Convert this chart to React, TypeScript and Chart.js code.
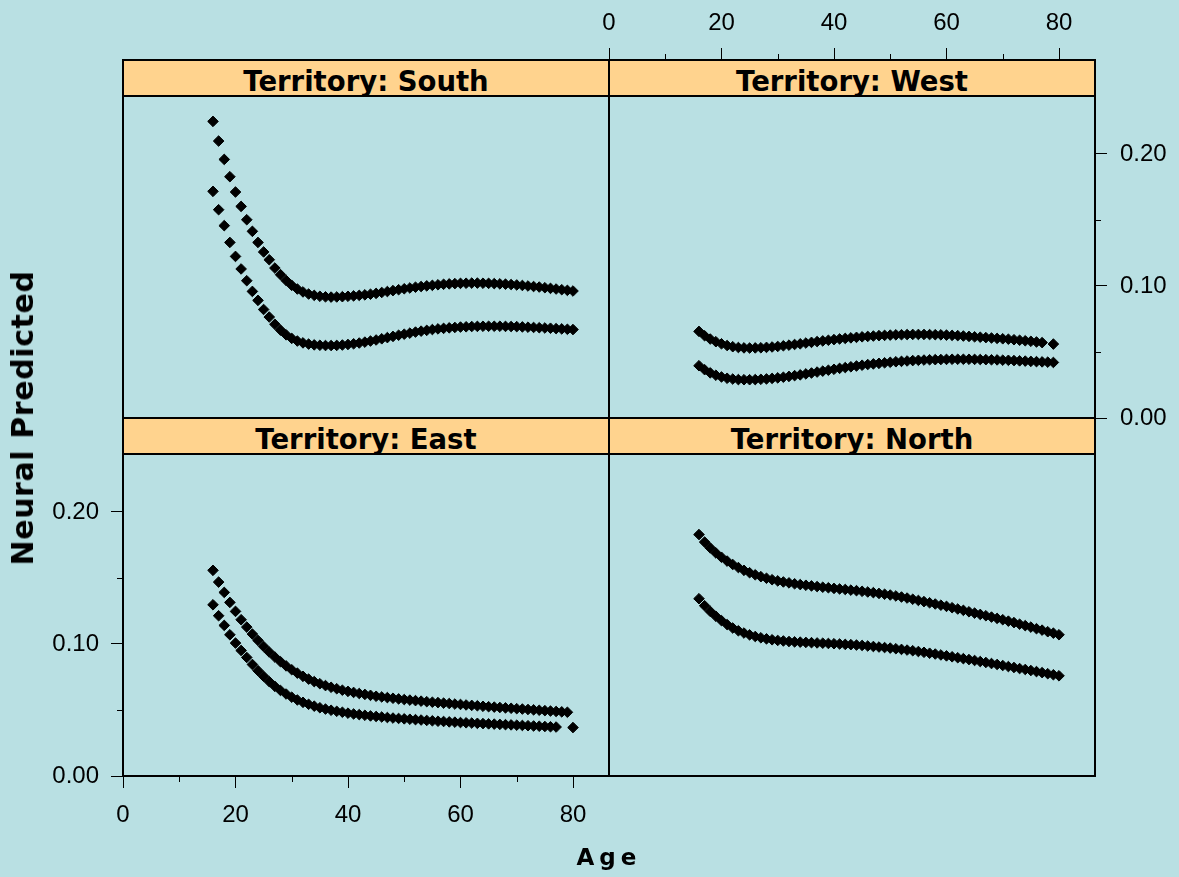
import React, { useEffect, useRef } from "react";
import { Chart, registerables } from "chart.js";

Chart.register(...registerables);

// ---------- data ----------
const AGES = [
  16, 17, 18, 19, 20, 21, 22, 23, 24, 25, 26, 27, 28, 29, 30, 31, 32, 33, 34, 35,
  36, 37, 38, 39, 40, 41, 42, 43, 44, 45, 46, 47, 48, 49, 50, 51, 52, 53, 54, 55,
  56, 57, 58, 59, 60, 61, 62, 63, 64, 65, 66, 67, 68, 69, 70, 71, 72, 73, 74, 75,
  76, 77, 78, 79, 80,
];

const SOUTH_UPPER = [
  0.2247, 0.2098, 0.1959, 0.1828, 0.1712, 0.1603, 0.1502, 0.1414, 0.133, 0.1258,
  0.1199, 0.1136, 0.1086, 0.1042, 0.1005, 0.0977, 0.0955, 0.0939, 0.0929, 0.0922,
  0.0918, 0.0916, 0.0917, 0.0919, 0.0922, 0.0925, 0.0929, 0.0933, 0.0938, 0.0944,
  0.0951, 0.0958, 0.0965, 0.0972, 0.0979, 0.0985, 0.0991, 0.0996, 0.1001, 0.1005,
  0.1009, 0.1013, 0.1016, 0.1018, 0.102, 0.1021, 0.1022, 0.1022, 0.1021, 0.102,
  0.1018, 0.1016, 0.1014, 0.1011, 0.1008, 0.1004, 0.1, 0.0996, 0.0992, 0.0987,
  0.0982, 0.0977, 0.0972, 0.0967, 0.0962,
];
const SOUTH_LOWER = [
  0.1717, 0.1578, 0.1457, 0.133, 0.1224, 0.1129, 0.104, 0.0959, 0.0891, 0.0822,
  0.0765, 0.071, 0.0666, 0.063, 0.0603, 0.0583, 0.0569, 0.056, 0.0554, 0.0551,
  0.0549, 0.0549, 0.055, 0.0553, 0.0557, 0.0562, 0.0568, 0.0575, 0.0583, 0.0591,
  0.06, 0.0609, 0.0618, 0.0627, 0.0635, 0.0643, 0.0651, 0.0658, 0.0664, 0.067,
  0.0675, 0.0679, 0.0683, 0.0686, 0.0689, 0.0691, 0.0693, 0.0694, 0.0695, 0.0695,
  0.0695, 0.0695, 0.0694, 0.0693, 0.0692, 0.069, 0.0688, 0.0686, 0.0684, 0.0682,
  0.068, 0.0677, 0.0675, 0.0672, 0.067,
];
const WEST_UPPER = [
  0.0656, 0.0623, 0.0598, 0.0578, 0.0562, 0.0549, 0.054, 0.0534, 0.0531, 0.053,
  0.0531, 0.0532, 0.0535, 0.0538, 0.0542, 0.0547, 0.0552, 0.0557, 0.0562, 0.0568,
  0.0573, 0.0579, 0.0584, 0.0589, 0.0594, 0.0599, 0.0603, 0.0607, 0.0611, 0.0615,
  0.0618, 0.0621, 0.0624, 0.0626, 0.0628, 0.063, 0.0631, 0.0632, 0.0633, 0.0633,
  0.0633, 0.0632, 0.0631, 0.063, 0.0628, 0.0626, 0.0624, 0.0621, 0.0618, 0.0615,
  0.0612, 0.0609, 0.0606, 0.0603, 0.06, 0.0597, 0.0593, 0.0589, 0.0585, 0.0581,
  0.0576, 0.0571, null, 0.056, null,
];
const WEST_LOWER = [
  0.0396, 0.0366, 0.0342, 0.0324, 0.0311, 0.0301, 0.0295, 0.0291, 0.029, 0.029,
  0.0291, 0.0293, 0.0296, 0.03, 0.0304, 0.0309, 0.0315, 0.0321, 0.0327, 0.0334,
  0.0341, 0.0348, 0.0355, 0.0362, 0.0369, 0.0376, 0.0382, 0.0388, 0.0394, 0.04,
  0.0405, 0.041, 0.0414, 0.0418, 0.0422, 0.0426, 0.0429, 0.0432, 0.0435, 0.0437,
  0.0439, 0.0441, 0.0442, 0.0443, 0.0444, 0.0445, 0.0445, 0.0445, 0.0445, 0.0444,
  0.0443, 0.0442, 0.0441, 0.044, 0.0438, 0.0437, 0.0435, 0.0433, 0.0431, 0.0429,
  0.0427, 0.0425, 0.0423, 0.0421, null,
];
const EAST_UPPER = [
  0.1558, 0.1469, 0.1391, 0.1315, 0.1247, 0.1184, 0.1128, 0.1075, 0.1027, 0.0981,
  0.0939, 0.0901, 0.0866, 0.0834, 0.0805, 0.0779, 0.0755, 0.0734, 0.0715, 0.0699,
  0.0685, 0.0672, 0.0661, 0.065, 0.0641, 0.0633, 0.0625, 0.0618, 0.0611, 0.0604,
  0.0599, 0.0594, 0.0589, 0.0584, 0.0579, 0.0575, 0.0571, 0.0567, 0.0563, 0.0559,
  0.0556, 0.0552, 0.0549, 0.0545, 0.0542, 0.0538, 0.0535, 0.0532, 0.0528, 0.0525,
  0.0522, 0.0519, 0.0516, 0.0513, 0.051, 0.0507, 0.0504, 0.0501, 0.0498, 0.0495,
  0.0492, 0.0489, 0.0486, 0.0483, null,
];
const EAST_LOWER = [
  0.1297, 0.1214, 0.1141, 0.107, 0.1007, 0.0951, 0.0898, 0.0845, 0.0798, 0.0755,
  0.0715, 0.0679, 0.0648, 0.0621, 0.0597, 0.0576, 0.0558, 0.0543, 0.0529, 0.0517,
  0.0507, 0.0498, 0.049, 0.0483, 0.0476, 0.047, 0.0465, 0.046, 0.0455, 0.0451,
  0.0447, 0.0443, 0.0439, 0.0436, 0.0433, 0.043, 0.0427, 0.0424, 0.0421, 0.0418,
  0.0415, 0.0413, 0.041, 0.0408, 0.0405, 0.0403, 0.0401, 0.0399, 0.0397, 0.0395,
  0.0393, 0.0391, 0.0389, 0.0387, 0.0385, 0.0383, 0.0381, 0.0379, 0.0377, 0.0375,
  0.0373, 0.0371, null, null, 0.0367,
];
const NORTH_UPPER = [
  0.1829, 0.1772, 0.1728, 0.169, 0.1657, 0.1628, 0.1602, 0.1579, 0.1558, 0.154,
  0.1524, 0.151, 0.1498, 0.1487, 0.1478, 0.147, 0.1463, 0.1456, 0.145, 0.1445,
  0.144, 0.1435, 0.143, 0.1426, 0.1421, 0.1417, 0.1413, 0.1408, 0.1404, 0.1399,
  0.1394, 0.1389, 0.1383, 0.1377, 0.1371, 0.1364, 0.1356, 0.1348, 0.1339, 0.133,
  0.1321, 0.1312, 0.1303, 0.1294, 0.1285, 0.1275, 0.1265, 0.1255, 0.1244, 0.1234,
  0.1224, 0.1214, 0.1204, 0.1194, 0.1184, 0.1173, 0.1162, 0.115, 0.1139, 0.1128,
  0.1116, 0.1105, 0.1093, 0.1082, 0.107,
];
const NORTH_LOWER = [
  0.1343, 0.129, 0.1247, 0.121, 0.1177, 0.1147, 0.1121, 0.11, 0.1083, 0.1069,
  0.1057, 0.1047, 0.1039, 0.1032, 0.1027, 0.1023, 0.1019, 0.1016, 0.1014, 0.1012,
  0.101, 0.1008, 0.1006, 0.1004, 0.1002, 0.1, 0.0997, 0.0995, 0.0992, 0.0989,
  0.0985, 0.0981, 0.0977, 0.0973, 0.0969, 0.0964, 0.0959, 0.0954, 0.0949, 0.0943,
  0.0937, 0.093, 0.0924, 0.0917, 0.091, 0.0903, 0.0896, 0.0889, 0.0882, 0.0875,
  0.0867, 0.086, 0.0852, 0.0845, 0.0837, 0.0829, 0.0822, 0.0814, 0.0807, 0.0799,
  0.0791, 0.0783, 0.0775, 0.0767, 0.0759,
];

const X_TICKS = [0, 20, 40, 60, 80];
const X_MINOR = [10, 30, 50, 70];
const Y_TICKS = [0, 0.1, 0.2];
const Y_MINOR = [0.05, 0.15];
const X_MIN = 0;
const X_MAX = 86.4;
const Y_MIN = 0;
const Y_MAX = 0.2712;

const Y_TITLE = "Neural Predicted";
const X_TITLE = "Age";

// ---------- layout / style ----------
const W = 1179;
const H = 877;
const COL_X = [123, 609, 1095];
const ROW_Y = [60, 418, 776];
const STRIP_H = 36;
const BG = "#B9E0E3";
const STRIP_BG = "#FFD38E";
const TICK_FONT = { family: "'Liberation Sans', Arial, sans-serif", size: 24 };
const TITLE_FONT = "'DejaVu Sans', 'Liberation Sans', sans-serif";
const MAJOR_LEN = 12;
const MINOR_LEN = 6;

type PanelDef = {
  title: string;
  upper: (number | null)[];
  lower: (number | null)[];
  col: number;
  row: number;
  xAxis?: "top" | "bottom";
  yAxis?: "left" | "right";
};

const PANELS: PanelDef[] = [
  { title: "Territory: South", upper: SOUTH_UPPER, lower: SOUTH_LOWER, col: 0, row: 0 },
  { title: "Territory: West", upper: WEST_UPPER, lower: WEST_LOWER, col: 1, row: 0, xAxis: "top", yAxis: "right" },
  { title: "Territory: East", upper: EAST_UPPER, lower: EAST_LOWER, col: 0, row: 1, xAxis: "bottom", yAxis: "left" },
  { title: "Territory: North", upper: NORTH_UPPER, lower: NORTH_LOWER, col: 1, row: 1 },
];

const framePlugin = {
  id: "frame",
  afterDraw(chart: any, _args: any, opts: any) {
    const { ctx, chartArea: a } = chart;
    ctx.save();
    ctx.strokeStyle = "#000";
    ctx.lineWidth = 2;
    ctx.strokeRect(Math.round(a.left), Math.round(a.top), Math.round(a.right - a.left), Math.round(a.bottom - a.top));
    ctx.lineWidth = 1;
    ctx.beginPath();
    if (opts.xPos) {
      const sx = chart.scales.x;
      const y0 = opts.xPos === "top" ? a.top : a.bottom;
      const dir = opts.xPos === "top" ? -1 : 1;
      for (const v of X_MINOR) {
        const px = Math.round(sx.getPixelForValue(v)) + 0.5;
        ctx.moveTo(px, y0);
        ctx.lineTo(px, y0 + dir * MINOR_LEN);
      }
    }
    if (opts.yPos) {
      const sy = chart.scales.y;
      const x0 = opts.yPos === "left" ? a.left : a.right;
      const dir = opts.yPos === "left" ? -1 : 1;
      for (const v of Y_MINOR) {
        const py = Math.round(sy.getPixelForValue(v)) + 0.5;
        ctx.moveTo(x0, py);
        ctx.lineTo(x0 + dir * MINOR_LEN, py);
      }
    }
    ctx.stroke();
    ctx.restore();
  },
};

function buildConfig(def: PanelDef): any {
  const left = COL_X[def.col];
  const right = COL_X[def.col + 1];
  const top = ROW_Y[def.row];
  const bottom = ROW_Y[def.row + 1];
  const padding = {
    left: def.yAxis === "left" ? 0 : left,
    right: def.yAxis === "right" ? 0 : W - right,
    top: def.xAxis === "top" ? 0 : top,
    bottom: def.xAxis === "bottom" ? 0 : H - bottom,
  };
  const toPoints = (vals: (number | null)[]) =>
    AGES.map((a, i) => (vals[i] == null ? null : { x: a, y: vals[i] })).filter((p) => p !== null);
  const ds = (vals: (number | null)[]) => ({
    data: toPoints(vals),
    pointStyle: "rectRot",
    pointRadius: 5.3,
    pointBackgroundColor: "#000",
    pointBorderColor: "#000",
    pointBorderWidth: 1,
    showLine: false,
  });
  const xShow = !!def.xAxis;
  const yShow = !!def.yAxis;
  const xScale: any = {
    type: "linear",
    position: def.xAxis || "bottom",
    min: X_MIN,
    max: X_MAX,
    display: xShow,
    afterBuildTicks: (s: any) => {
      s.ticks = X_TICKS.map((v) => ({ value: v }));
    },
    grid: { drawOnChartArea: false, drawTicks: true, tickLength: MAJOR_LEN, color: "#000", lineWidth: 1 },
    border: { display: true, color: "#000", width: 2 },
    ticks: {
      color: "#000",
      font: TICK_FONT,
      padding: def.xAxis === "top" ? 10 : 13,
      maxRotation: 0,
      autoSkip: false,
      callback: (v: any) => String(v),
    },
  };
  if (xShow) xScale.afterFit = (s: any) => { s.height = def.xAxis === "top" ? top : H - bottom; };
  const yScale: any = {
    type: "linear",
    position: def.yAxis || "left",
    min: Y_MIN,
    max: Y_MAX,
    display: yShow,
    afterBuildTicks: (s: any) => {
      s.ticks = Y_TICKS.map((v) => ({ value: v }));
    },
    grid: { drawOnChartArea: false, drawTicks: true, tickLength: MAJOR_LEN, color: "#000", lineWidth: 1 },
    border: { display: true, color: "#000", width: 2 },
    ticks: {
      color: "#000",
      font: TICK_FONT,
      padding: def.yAxis === "right" ? 13 : 12,
      autoSkip: false,
      callback: (v: any) => Number(v).toFixed(2),
    },
  };
  if (yShow) yScale.afterFit = (s: any) => { s.width = def.yAxis === "left" ? left : W - right; };
  return {
    type: "scatter",
    data: { datasets: [ds(def.upper), ds(def.lower)] },
    options: {
      animation: false,
      responsive: false,
      devicePixelRatio: 1,
      events: [],
      layout: { padding },
      scales: { x: xScale, y: yScale },
      plugins: {
        legend: { display: false },
        tooltip: { enabled: false },
        frame: { xPos: def.xAxis, yPos: def.yAxis },
      },
    },
    plugins: [framePlugin],
  };
}

function Panel({ def }: { def: PanelDef }) {
  const ref = useRef<HTMLCanvasElement | null>(null);
  useEffect(() => {
    if (!ref.current) return;
    const chart = new Chart(ref.current, buildConfig(def));
    return () => chart.destroy();
  }, [def]);
  return (
    <canvas
      ref={ref}
      width={W}
      height={H}
      style={{ position: "absolute", left: 0, top: 0, width: W, height: H }}
    />
  );
}

function Strip({ def }: { def: PanelDef }) {
  const left = COL_X[def.col];
  const right = COL_X[def.col + 1];
  const top = ROW_Y[def.row];
  return (
    <div
      style={{
        position: "absolute",
        left: left - 1,
        top: top - 1,
        width: right - left + 2,
        height: STRIP_H + 2,
        boxSizing: "border-box",
        border: "2px solid #000",
        background: STRIP_BG,
        overflow: "visible",
      }}
    >
      <div
        style={{
          position: "absolute",
          left: 0,
          right: 0,
          top: 7,
          textAlign: "center",
          fontFamily: TITLE_FONT,
          fontWeight: "bold",
          fontSize: 27.5,
          lineHeight: "27.5px",
          color: "#000",
          whiteSpace: "nowrap",
        }}
      >
        {def.title}
      </div>
    </div>
  );
}

export default function App() {
  return (
    <div
      style={{
        position: "absolute",
        left: 0,
        top: 0,
        width: W,
        height: H,
        background: BG,
        overflow: "hidden",
      }}
    >
      {PANELS.map((p) => (
        <Panel key={p.title} def={p} />
      ))}
      {PANELS.map((p) => (
        <Strip key={"s" + p.title} def={p} />
      ))}
      <div
        style={{
          position: "absolute",
          left: 23,
          top: (ROW_Y[0] + ROW_Y[2]) / 2,
          transform: "translate(-50%, -50%) rotate(-90deg)",
          fontFamily: TITLE_FONT,
          fontWeight: "bold",
          fontSize: 30,
          letterSpacing: "0.6px",
          lineHeight: "30px",
          whiteSpace: "nowrap",
          color: "#000",
        }}
      >
        {Y_TITLE}
      </div>
      <div
        style={{
          position: "absolute",
          left: (COL_X[0] + COL_X[2]) / 2,
          top: 857,
          transform: "translate(-50%, -50%)",
          fontFamily: TITLE_FONT,
          fontWeight: "bold",
          fontSize: 23,
          letterSpacing: "5px",
          lineHeight: "23px",
          whiteSpace: "nowrap",
          color: "#000",
        }}
      >
        {X_TITLE}
      </div>
    </div>
  );
}
